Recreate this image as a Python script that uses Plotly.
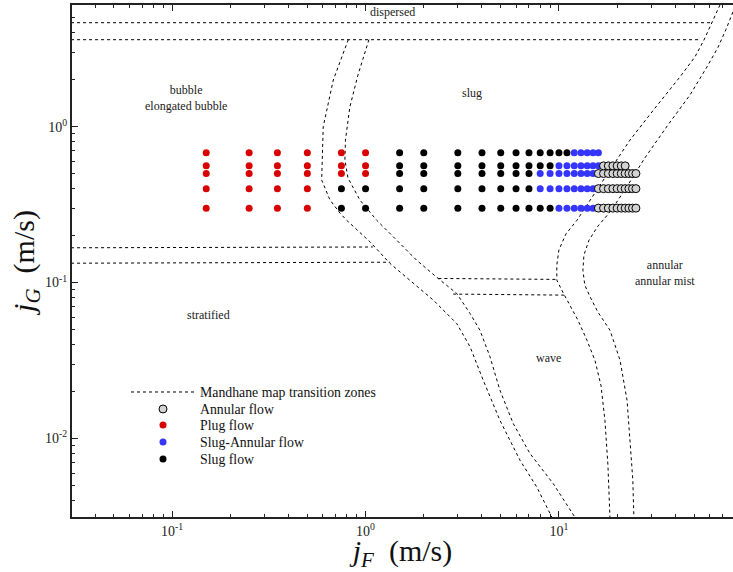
import math
import plotly.graph_objects as go

# ---- Measured operating points: superficial liquid velocity jF per gas row jG (m/s)
plug_flow = {
    0.30: [0.15, 0.25, 0.35, 0.5],
    0.40: [0.15, 0.25, 0.35, 0.5],
    0.50: [0.15, 0.25, 0.35, 0.5, 0.75, 1.0],
    0.56: [0.15, 0.25, 0.35, 0.5, 0.75, 1.0],
    0.68: [0.15, 0.25, 0.35, 0.5, 0.75, 1.0],
}
slug_flow = {
    0.30: [0.75, 1.0, 1.5, 2, 3, 4, 5, 6, 7, 8, 9],
    0.40: [0.75, 1.0, 1.5, 2, 3, 4, 5, 6, 7],
    0.50: [1.5, 2, 3, 4, 5, 6, 7],
    0.56: [1.5, 2, 3, 4, 5, 6, 7, 8, 9],
    0.68: [1.5, 2, 3, 4, 5, 6, 7, 8, 9, 10, 11],
}
slug_annular_flow = {
    0.30: [10, 11, 12, 13, 14, 15],
    0.40: [8, 9, 10, 11, 12, 13, 14, 15],
    0.50: [8, 9, 10, 11, 12, 13, 14, 15],
    0.56: [10, 11, 12, 13, 14, 15, 16],
    0.68: [12, 13, 14, 15, 16],
}
annular_flow = {
    0.30: [16, 17, 18, 19, 20, 21, 22, 23, 24, 25],
    0.40: [16, 17, 18, 19, 20, 21, 22, 23, 24, 25],
    0.50: [16, 17, 18, 19, 20, 21, 22, 23, 24, 25],
    0.56: [17, 18, 19, 20, 21, 22],
}

# ---- Mandhane flow-pattern map transition zones (jF, jG in m/s)
dispersed_a_jF = [0.03, 62.5]
dispersed_a_jG = [4.64, 4.64]
dispersed_b_jF = [0.03, 53.6]
dispersed_b_jG = [3.61, 3.61]

stratified_a_jF = [0.03, 1.09]
stratified_a_jG = [0.167, 0.169]
stratified_b_jF = [0.03, 1.34]
stratified_b_jG = [0.133, 0.135]

wave_a_jF = [2.38, 6.0, 9.73]
wave_a_jG = [0.1062, 0.105, 0.1047]
wave_b_jF = [2.84, 10.74]
wave_b_jG = [0.0843, 0.083]

slug_left_jF = [0.814, 0.681, 0.604, 0.593, 0.655, 0.737, 0.798, 1.054, 1.337,
                1.697, 2.24, 2.96, 3.47, 4.06, 4.95, 6.29, 7.67, 9.20]
slug_left_jG = [3.61, 1.99, 1.0, 0.454, 0.338, 0.279, 0.251, 0.1824, 0.1326,
                0.1036, 0.0771, 0.0546, 0.0387, 0.0236, 0.01308, 0.00724, 0.00489, 0.00312]

slug_right_jF = [1.041, 0.913, 0.830, 0.787, 0.782, 0.811, 0.935, 1.141, 1.448, 1.837,
                 2.43, 2.96, 3.47, 3.90, 4.40, 4.95, 5.80, 7.08, 9.34, 12.1]
slug_right_jG = [3.61, 2.14, 1.342, 0.820, 0.610, 0.468, 0.338, 0.251, 0.187, 0.139,
                 0.1036, 0.0851, 0.0633, 0.0495, 0.0334, 0.0204, 0.01247, 0.0080, 0.00513, 0.00312]

annular_left_jF = [68.0, 61.8, 56.2, 50.5, 42.2, 31.4, 23.3, 18.35, 14.8, 12.4, 10.86, 9.99,
                   9.75, 9.75, 10.47, 11.38, 12.54, 13.96, 15.35, 16.49, 17.29, 17.92, 18.35]
annular_left_jG = [6.03, 4.62, 3.59, 2.80, 2.08, 1.316, 0.820, 0.526, 0.348, 0.251, 0.2046, 0.1615,
                   0.1293, 0.1036, 0.0867, 0.0715, 0.0573, 0.0426, 0.0317, 0.0219, 0.01306, 0.00672, 0.00312]

annular_right_jF = [79.4, 73.0, 66.4, 58.2, 47.6, 36.6, 27.8, 21.9, 18.35, 15.9, 14.3, 13.46,
                    13.3, 13.6, 14.6, 15.9, 18.35, 20.7, 22.5, 23.3, 24.1, 24.4]
annular_right_jG = [5.44, 4.19, 3.22, 2.41, 1.595, 1.024, 0.629, 0.392, 0.283, 0.230, 0.187, 0.150,
                    0.120, 0.0962, 0.0794, 0.0646, 0.0495, 0.0317, 0.01755, 0.00974, 0.0054, 0.00312]

boundaries = [
    (dispersed_a_jF, dispersed_a_jG),
    (dispersed_b_jF, dispersed_b_jG),
    (stratified_a_jF, stratified_a_jG),
    (stratified_b_jF, stratified_b_jG),
    (wave_a_jF, wave_a_jG),
    (wave_b_jF, wave_b_jG),
    (slug_left_jF, slug_left_jG),
    (slug_right_jF, slug_right_jG),
    (annular_left_jF, annular_left_jG),
    (annular_right_jF, annular_right_jG),
]

# ---- Region labels
region_names = ["dispersed", "bubble<br>elongated bubble", "slug",
                "annular<br>annular mist", "stratified", "wave"]
region_jF = [1.37, 0.118, 3.56, 35.3, 0.155, 8.88]
region_jG = [5.4, 1.52, 1.64, 0.115, 0.062, 0.0326]

x_tick_vals = [0.1, 1, 10]
x_tick_text = ["10<sup>-1</sup>", "10<sup>0</sup>", "10<sup>1</sup>"]
y_tick_vals = [0.01, 0.1, 1]
y_tick_text = ["10<sup>-2</sup>", "10<sup>-1</sup>", "10<sup>0</sup>"]

x_minor = [0.04, 0.05, 0.06, 0.07, 0.08, 0.09,
           0.2, 0.3, 0.4, 0.5, 0.6, 0.7, 0.8, 0.9,
           2, 3, 4, 5, 6, 7, 8, 9, 20, 30, 40, 50, 60, 70]
y_minor = [0.004, 0.005, 0.006, 0.007, 0.008, 0.009,
           0.02, 0.03, 0.04, 0.05, 0.06, 0.07, 0.08, 0.09,
           0.2, 0.3, 0.4, 0.5, 0.6, 0.7, 0.8, 0.9, 2, 3, 4, 5, 6]

SERIF = "Liberation Serif, Times New Roman, serif"

# one legend box per entry so the rows can sit closer than a single legend allows
LEGEND_X = 0.0817
LEGEND_ROWS = {"legend": 0.2441, "legend2": 0.2109, "legend3": 0.1797,
               "legend4": 0.1465, "legend5": 0.1133}


def flatten(groups):
    xs, ys = [], []
    for jg, jfs in groups.items():
        for jf in jfs:
            xs.append(jf)
            ys.append(jg)
    return xs, ys


fig = go.Figure()

for i, (bx, by) in enumerate(boundaries):
    fig.add_trace(go.Scatter(
        x=bx, y=by, mode="lines",
        line=dict(color="black", width=1, dash="3px,3px"),
        name="Mandhane map transition zones",
        legendgroup="mandhane", showlegend=(i == 0), legend="legend",
        hoverinfo="skip",
    ))

series = [
    ("Plug flow", plug_flow, "#d90000", None, 7, "legend3"),
    ("Slug flow", slug_flow, "black", None, 7, "legend5"),
    ("Slug-Annular flow", slug_annular_flow, "#3535ff", None, 7, "legend4"),
    ("Annular flow", annular_flow, "#d3d3d3", "black", 8, "legend2"),
]
for name, groups, color, edge, size, leg in series:
    xs, ys = flatten(groups)
    fig.add_trace(go.Scatter(
        x=xs, y=ys, mode="markers", name=name, legend=leg,
        marker=dict(size=size, color=color,
                    line=dict(color=edge if edge else color, width=1 if edge else 0)),
    ))

# annotation positions on log axes are given in decades
for txt, xv, yv in zip(region_names, region_jF, region_jG):
    fig.add_annotation(x=math.log10(xv), y=math.log10(yv), xref="x", yref="y",
                       text=txt, showarrow=False,
                       font=dict(family=SERIF, size=12, color="#222"))

axis_common = dict(
    type="log", showgrid=False, zeroline=False,
    showline=True, linecolor="#222", linewidth=2,
    ticks="inside", ticklen=6, tickwidth=1, tickcolor="#222",
    tickfont=dict(family=SERIF, size=14, color="#222"),
    tickmode="array",
)

fig.update_xaxes(
    **axis_common, mirror="ticks",
    range=[-1.518, 1.900],
    tickvals=x_tick_vals, ticktext=x_tick_text,
    minor=dict(tickmode="array", tickvals=x_minor, ticks="inside", ticklen=3,
               tickcolor="#222", showgrid=False),
    title=dict(text="<i>j</i><sub><i>F</i></sub>  (m/s)",
               font=dict(family=SERIF, size=30, color="#111"), standoff=0),
)
fig.update_yaxes(
    **axis_common, mirror=False,
    range=[-2.504, 0.780],
    tickvals=y_tick_vals, ticktext=y_tick_text,
    minor=dict(tickmode="array", tickvals=y_minor, ticks="inside", ticklen=3,
               tickcolor="#222", showgrid=False),
    title=dict(text="<i>j</i><sub><i>G</i></sub>  (m/s)",
               font=dict(family=SERIF, size=30, color="#111"), standoff=0),
)

legend_style = dict(x=LEGEND_X, xanchor="left", yanchor="middle",
                    bgcolor="rgba(0,0,0,0)", borderwidth=0,
                    font=dict(family=SERIF, size=13.8, color="#111"),
                    itemwidth=64, tracegroupgap=0)
legend_layout = {key: dict(legend_style, y=yv) for key, yv in LEGEND_ROWS.items()}

fig.update_layout(
    width=733, height=572,
    margin=dict(l=72, r=0, t=5, b=55),
    plot_bgcolor="white", paper_bgcolor="white",
    showlegend=True,
    **legend_layout,
)

fig.write_html("out.html")
